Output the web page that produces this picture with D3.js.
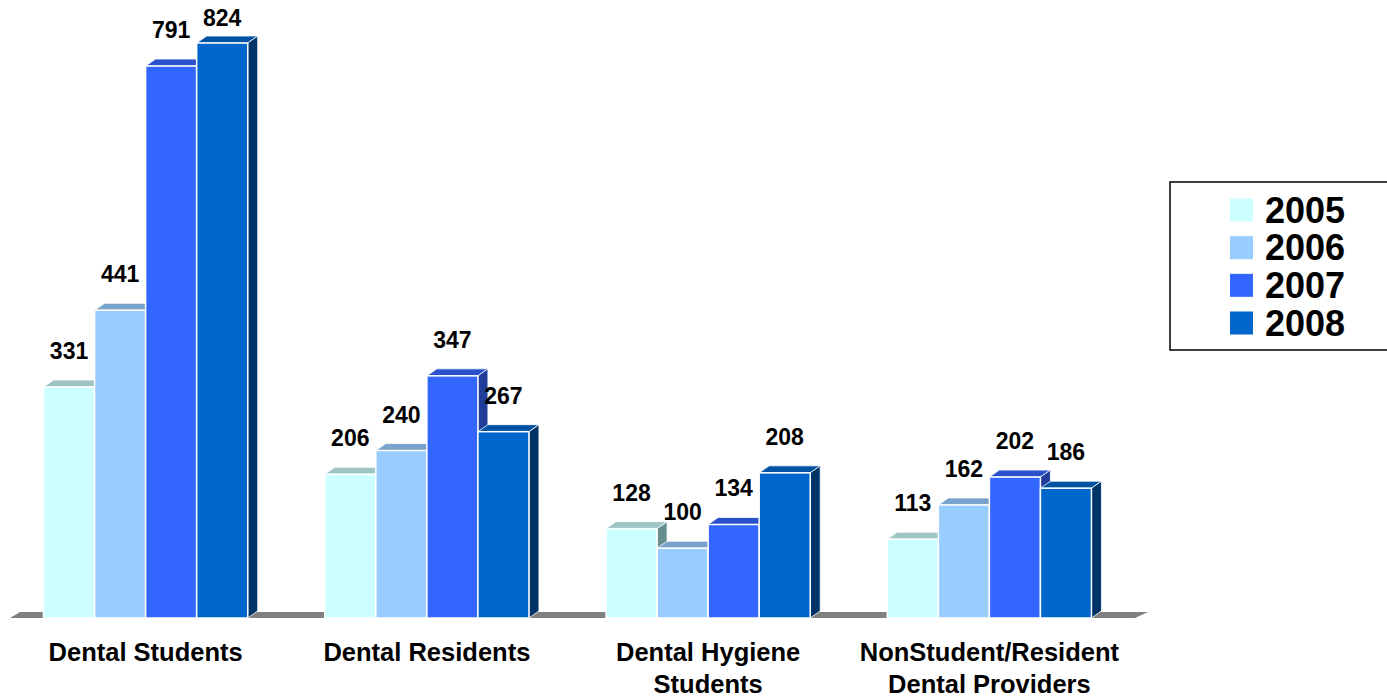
<!DOCTYPE html>
<html>
<head>
<meta charset="utf-8">
<script src="https://cdn.jsdelivr.net/npm/d3@7"></script>
<style>
  body { margin: 0; background: #fff; }
  svg { display: block; font-family: Arial, "Liberation Sans", sans-serif; font-weight: bold; }
</style>
</head>
<body>
<svg id="chart" width="1387" height="698"></svg>
<script>
// chart data
const categories = ["Dental Students", "Dental Residents", "Dental Hygiene Students", "NonStudent/Resident Dental Providers"]
const categoryLines = [["Dental Students"], ["Dental Residents"], ["Dental Hygiene", "Students"], ["NonStudent/Resident", "Dental Providers"]]
const years = ["2005", "2006", "2007", "2008"]
const values2005 = [331, 206, 128, 113]
const values2006 = [441, 240, 100, 162]
const values2007 = [791, 347, 134, 202]
const values2008 = [824, 267, 208, 186]
const seriesValues = [values2005, values2006, values2007, values2008]

// front / top / side shades for each year
const frontColors = ["#CCFFFF", "#99CCFF", "#3366FF", "#0066CC"]
const topColors = ["#9EC4C4", "#7AA3CC", "#2A50CC", "#0052A3"]
const sideColors = ["#678E8E", "#5C7A99", "#1F3D99", "#003366"]

const svg = d3.select("#chart")
const baseY = 618
const depth = { dx: 10, dy: 7 }

const x0 = d3.scaleBand().domain(categories).range([5, 1130])
const x1 = d3.scaleBand().domain(years).range([0, x0.bandwidth()]).paddingOuter(0.755)
const y = d3.scaleLinear().domain([0, 824]).range([baseY, 43])

// floor
const fl = x0.range()
svg.append("path")
    .attr("d", `M${fl[0] + 5},${baseY} L${fl[0] + 5 + depth.dx},${baseY - depth.dy + 1} L${fl[1] + 8 + depth.dx},${baseY - depth.dy + 1} L${fl[1] + 5},${baseY} Z`)
    .attr("fill", "#808080")

const bars = []
categories.forEach((c, ci) => {
    years.forEach((yr, si) => {
        bars.push({ cat: c, year: yr, si: si, value: seriesValues[si][ci] })
    })
})

const g = svg.append("g")
bars.forEach(d => {
    const bx = x0(d.cat) + x1(d.year)
    const bw = x1.bandwidth()
    const ty = y(d.value)
    const bar = g.append("g")
    // top face
    bar.append("path")
        .attr("d", `M${bx},${ty} L${bx + depth.dx},${ty - depth.dy} L${bx + bw + depth.dx},${ty - depth.dy} L${bx + bw},${ty} Z`)
        .attr("fill", topColors[d.si])
        .attr("stroke", "#fff").attr("stroke-width", 0.8)
    // side face
    bar.append("path")
        .attr("d", `M${bx + bw},${ty} L${bx + bw + depth.dx},${ty - depth.dy} L${bx + bw + depth.dx},${baseY - depth.dy} L${bx + bw},${baseY} Z`)
        .attr("fill", sideColors[d.si])
        .attr("stroke", "#fff").attr("stroke-width", 0.8)
    // front face
    bar.append("rect")
        .attr("x", bx).attr("y", ty)
        .attr("width", bw).attr("height", baseY - ty)
        .attr("fill", frontColors[d.si])
        .attr("stroke", "#fff").attr("stroke-width", 1.5)
})

// value labels (kept inside the top edge)
svg.append("g")
    .selectAll("text")
    .data(bars)
    .join("text")
    .attr("x", d => x0(d.cat) + x1(d.year) + x1.bandwidth() / 2)
    .attr("y", d => Math.max(y(d.value) - 28, 26))
    .attr("text-anchor", "middle")
    .attr("font-size", 23)
    .attr("fill", "#000")
    .text(d => d.value)

// category labels
const catG = svg.append("g")
categories.forEach((c, i) => {
    const t = catG.append("text")
        .attr("x", x0(c) + x0.bandwidth() / 2)
        .attr("y", 661)
        .attr("text-anchor", "middle")
        .attr("font-size", 25.5)
    categoryLines[i].forEach((ln, li) => {
        t.append("tspan")
            .attr("x", x0(c) + x0.bandwidth() / 2)
            .attr("dy", li === 0 ? 0 : 32)
            .text(ln)
    })
})

// legend
const legend = svg.append("g")
legend.append("rect")
    .attr("x", 1170).attr("y", 182)
    .attr("width", 240).attr("height", 168)
    .attr("fill", "#fff").attr("stroke", "#000").attr("stroke-width", 1.5)
const ly = d3.scalePoint().domain(years).range([210, 323])
years.forEach((yr, i) => {
    legend.append("rect")
        .attr("x", 1230).attr("y", ly(yr) - 11.5)
        .attr("width", 23).attr("height", 23)
        .attr("fill", frontColors[i])
    legend.append("text")
        .attr("x", 1265).attr("y", ly(yr) + 12.5)
        .attr("font-size", 36)
        .text(yr)
})
</script>
</body>
</html>
